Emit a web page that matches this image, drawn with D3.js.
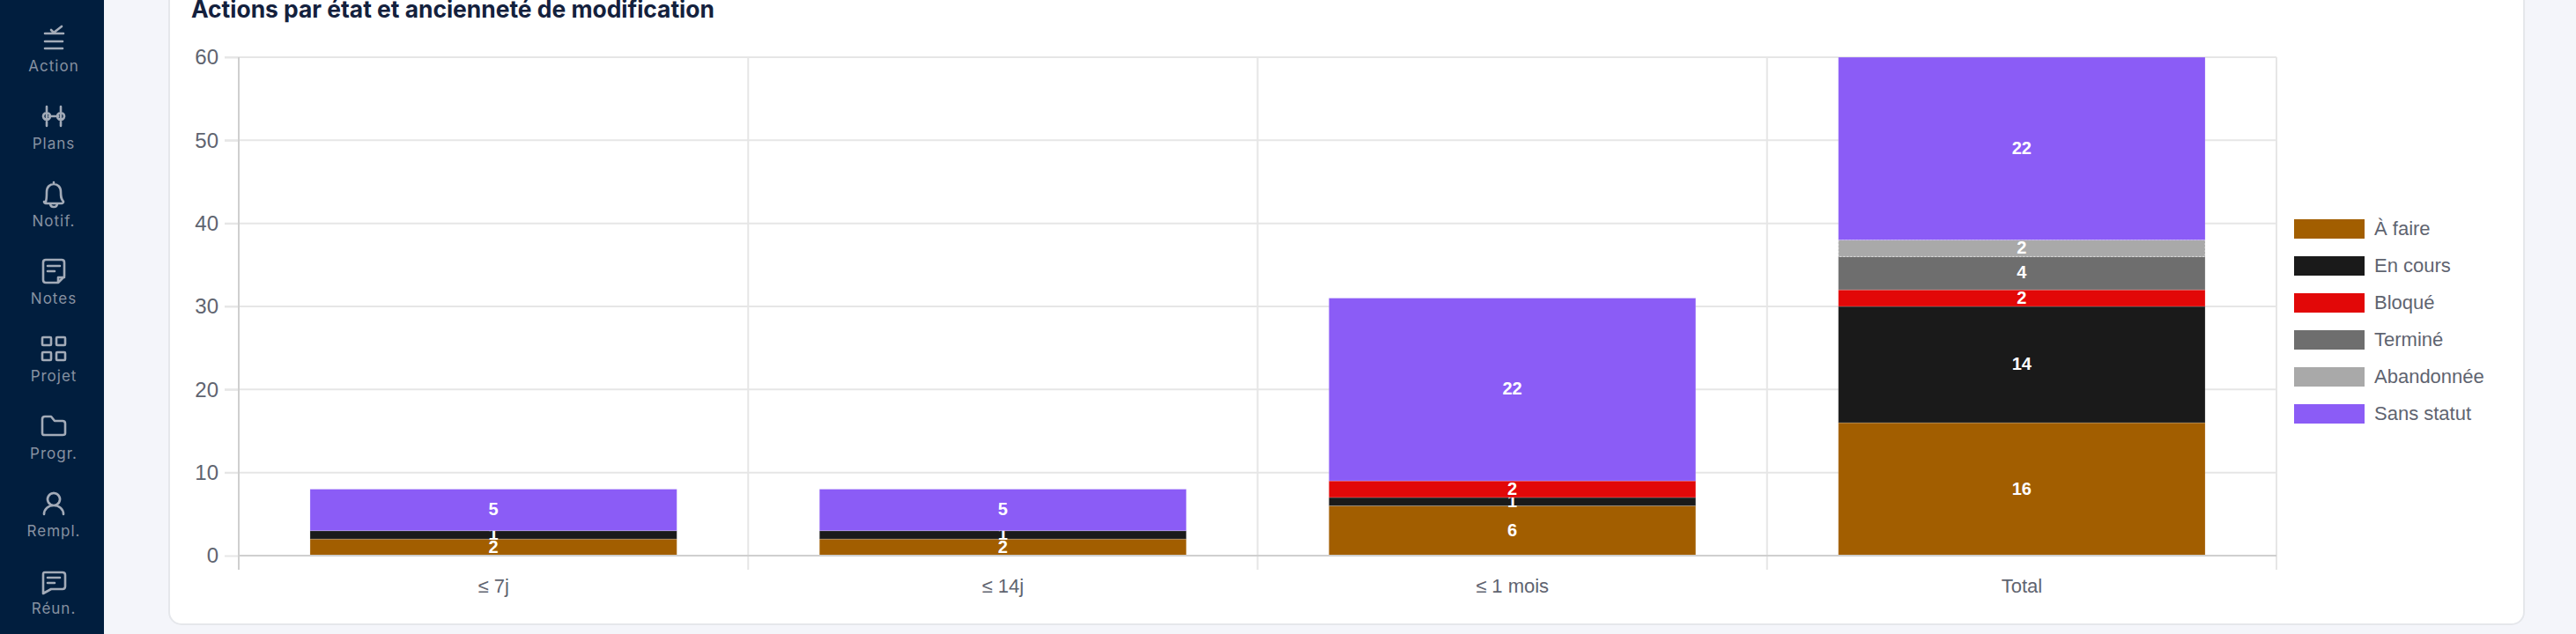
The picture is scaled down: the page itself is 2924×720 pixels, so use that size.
<!DOCTYPE html>
<html lang="fr">
<head>
<meta charset="utf-8">
<title>Actions par état et ancienneté de modification</title>
<script src="https://cdn.jsdelivr.net/npm/d3@7/dist/d3.min.js"></script>
<style>
  html, body { margin: 0; padding: 0; background: #f4f5fa; overflow: hidden; }
  svg { display: block; }
</style>
</head>
<body>
<div id="chart"></div>
<script>
const chartTitle = "Actions par état et ancienneté de modification";
const categories = ["≤ 7j", "≤ 14j", "≤ 1 mois", "Total"];
const statuses = ["À faire", "En cours", "Bloqué", "Terminé", "Abandonnée", "Sans statut"];
const statusColors = ["#a25e00", "#1a1a1a", "#e20808", "#6e6e6e", "#a9a9a9", "#8b5cf6"];
const aFaire = [2, 2, 6, 16];
const enCours = [1, 1, 1, 14];
const bloque = [0, 0, 2, 2];
const termine = [0, 0, 0, 4];
const abandonnee = [0, 0, 0, 2];
const sansStatut = [5, 5, 22, 22];
const yTicks = [0, 10, 20, 30, 40, 50, 60];
const navLabels = ["Action", "Plans", "Notif.", "Notes", "Projet", "Progr.", "Rempl.", "Réun."];

// Sidebar icons, drawn around (0,0)
const navIcons = [
  "M-10,-6H11 M-10,3H10 M-10,11H10 M-3,-10L0,-7L9,-14",
  "M-8,-11V11 M8,-11V11 M-5,0H5 M-8,-4a4,4 0 1,0 .01,0 M8,-4a4,4 0 1,0 .01,0",
  "M0,-13V-11 M-9,9C-8,6 -8,3 -8,-2C-8,-8 -4,-11 0,-11C4,-11 8,-8 8,-2C8,3 8,6 11,9C11,10 10,11 9,11H-9C-10,11 -11,10 -11,9C-11,9 -10,9 -9,9Z M-4,11C-4,14 -2,15 0,15C2,15 4,14 4,11",
  "M-9,-13H9C11,-13 12,-12 12,-10V6L5,13H-9C-11,13 -12,12 -12,10V-10C-12,-12 -11,-13 -9,-13Z M-7,-6H7 M-7,0H1 M5,13V7H12",
  "M-12,-13H-4C-3,-13 -3,-12 -3,-12V-5C-3,-4 -4,-4 -4,-4H-12C-13,-4 -13,-5 -13,-5V-12C-13,-13 -12,-13 -12,-13Z M4,-13H12C13,-13 13,-12 13,-12V-5C13,-4 12,-4 12,-4H4C3,-4 3,-5 3,-5V-12C3,-13 4,-13 4,-13Z M-12,4H-4C-3,4 -3,5 -3,5V12C-3,13 -4,13 -4,13H-12C-13,13 -13,12 -13,12V5C-13,4 -12,4 -12,4Z M4,4H12C13,4 13,5 13,5V12C13,13 12,13 12,13H4C3,13 3,12 3,12V5C3,4 4,4 4,4Z",
  "M-10,-11H-3L1,-6H10C12,-6 13,-5 13,-3V8C13,10 12,10 10,10H-10C-12,10 -13,10 -13,8V-8C-13,-10 -12,-11 -10,-11Z",
  "M0,-12a7,7 0 1,0 .01,0 M-11,12C-11,6 -6,2 0,2C6,2 11,6 11,12",
  "M-10,-10H10C12,-10 13,-9 13,-7V6C13,8 12,9 10,9H-3L-12,14V-7C-12,-9 -12,-10 -10,-10Z M-7,-4H7 M-7,2H1"
];

const series = [aFaire, enCours, bloque, termine, abandonnee, sansStatut];
const rows = categories.map((c, i) => {
  const row = { category: c };
  statuses.forEach((s, j) => { row[s] = series[j][i]; });
  return row;
});

const width = 2924, height = 720;
const margin = { top: 65, right: 340, bottom: 89, left: 271 };
const chartFont = "'Liberation Sans', Arial, sans-serif";

const svg = d3.select("#chart").append("svg")
  .attr("width", width)
  .attr("height", height);

svg.append("rect").attr("width", width).attr("height", height).attr("fill", "#f4f5fa");

// Card
svg.append("rect")
  .attr("x", 192).attr("y", -30)
  .attr("width", 2673).attr("height", 739)
  .attr("rx", 14)
  .attr("fill", "#fff")
  .attr("stroke", "#e5e7eb")
  .attr("stroke-width", 2);

// Sidebar
svg.append("rect").attr("width", 118).attr("height", height).attr("fill", "#011e3e");

const navStep = 88;
const nav = svg.append("g").selectAll("g")
  .data(navLabels)
  .join("g")
  .attr("transform", (d, i) => `translate(61,${i * navStep})`);

nav.append("path")
  .attr("transform", "translate(0,44)")
  .attr("d", (d, i) => navIcons[i])
  .attr("fill", "none")
  .attr("stroke", "#a3abb8")
  .attr("stroke-width", 2.6)
  .attr("stroke-linecap", "round")
  .attr("stroke-linejoin", "round");

nav.append("text")
  .attr("y", 81)
  .attr("text-anchor", "middle")
  .attr("font-family", "Inter, sans-serif")
  .attr("font-size", 17)
  .attr("letter-spacing", 1)
  .attr("fill", "#8791a1")
  .text(d => d);

// Title
svg.append("text")
  .attr("x", 217).attr("y", 20)
  .attr("font-family", "Inter, sans-serif")
  .attr("font-size", 26.4)
  .attr("font-weight", 700)
  .attr("fill", "#14213d")
  .text(chartTitle);

// Scales
const x = d3.scaleBand()
  .domain(categories)
  .range([margin.left, width - margin.right]);

const y = d3.scaleLinear()
  .domain([0, 60])
  .range([height - margin.bottom, margin.top]);

const barWidth = x.bandwidth() * 0.72;
const tickOut = 16;

// Grid
const grid = svg.append("g");
grid.selectAll(".h")
  .data(yTicks.slice(1))
  .join("line")
  .attr("class", "h")
  .attr("x1", margin.left - tickOut).attr("x2", width - margin.right)
  .attr("y1", d => y(d)).attr("y2", d => y(d))
  .attr("stroke", "#e6e6e6")
  .attr("stroke-width", 2);

grid.selectAll(".v")
  .data(categories)
  .join("line")
  .attr("class", "v")
  .attr("x1", d => x(d) + x.bandwidth()).attr("x2", d => x(d) + x.bandwidth())
  .attr("y1", margin.top).attr("y2", y(0) + tickOut)
  .attr("stroke", "#e6e6e6")
  .attr("stroke-width", 2);

// Stacked bars
const stacked = d3.stack().keys(statuses)(rows);

const layers = svg.append("g").selectAll("g")
  .data(stacked)
  .join("g")
  .attr("fill", (d, i) => statusColors[i]);

layers.selectAll("rect")
  .data(d => d.filter(p => p[1] > p[0]))
  .join("rect")
  .attr("x", d => x(d.data.category) + (x.bandwidth() - barWidth) / 2)
  .attr("y", d => y(d[1]))
  .attr("width", barWidth)
  .attr("height", d => y(d[0]) - y(d[1]))
  .attr("stroke", "#fff")
  .attr("stroke-opacity", 0.2)
  .attr("stroke-width", 1);

// Abandonnée has a dashed edge in the original
layers.filter(d => d.key === "Abandonnée").selectAll("rect")
  .attr("stroke-opacity", 0.6)
  .attr("stroke-dasharray", "2,2");

// Axes
const yAxis = svg.append("g")
  .attr("transform", `translate(${margin.left},0)`)
  .call(d3.axisLeft(y).tickValues(yTicks).tickSize(tickOut).tickPadding(7));
yAxis.select(".domain").remove();
yAxis.selectAll("line").attr("stroke", "#e6e6e6").attr("stroke-width", 2);
yAxis.selectAll("text")
  .attr("font-family", chartFont)
  .attr("font-size", 24)
  .attr("fill", "#5f6470");

const xAxis = svg.append("g")
  .attr("transform", `translate(0,${y(0)})`)
  .call(d3.axisBottom(x).tickSize(0).tickPadding(26));
xAxis.select(".domain").remove();
xAxis.selectAll("text")
  .attr("font-family", chartFont)
  .attr("font-size", 22)
  .attr("fill", "#5f6470");

svg.append("line")
  .attr("x1", margin.left).attr("x2", margin.left)
  .attr("y1", margin.top).attr("y2", y(0) + tickOut)
  .attr("stroke", "#cfcfcf").attr("stroke-width", 2);

svg.append("line")
  .attr("x1", margin.left).attr("x2", width - margin.right)
  .attr("y1", y(0)).attr("y2", y(0))
  .attr("stroke", "#cfcfcf").attr("stroke-width", 2);

// Value labels
layers.selectAll("text")
  .data(d => d.filter(p => p[1] > p[0]))
  .join("text")
  .attr("x", d => x(d.data.category) + x.bandwidth() / 2)
  .attr("y", d => y((d[0] + d[1]) / 2))
  .attr("dy", "0.3em")
  .attr("text-anchor", "middle")
  .attr("font-family", chartFont)
  .attr("font-size", 20)
  .attr("font-weight", 700)
  .attr("fill", "#fff")
  .text(d => d[1] - d[0]);

// Legend
const legend = svg.append("g").selectAll("g")
  .data(statuses)
  .join("g")
  .attr("transform", (d, i) => `translate(2604,${249 + i * 42})`);

legend.append("rect")
  .attr("width", 80).attr("height", 22)
  .attr("fill", (d, i) => statusColors[i]);

legend.append("text")
  .attr("x", 91).attr("y", 11)
  .attr("dy", "0.3em")
  .attr("font-family", chartFont)
  .attr("font-size", 22)
  .attr("fill", "#5f6470")
  .text(d => d);
</script>
</body>
</html>
